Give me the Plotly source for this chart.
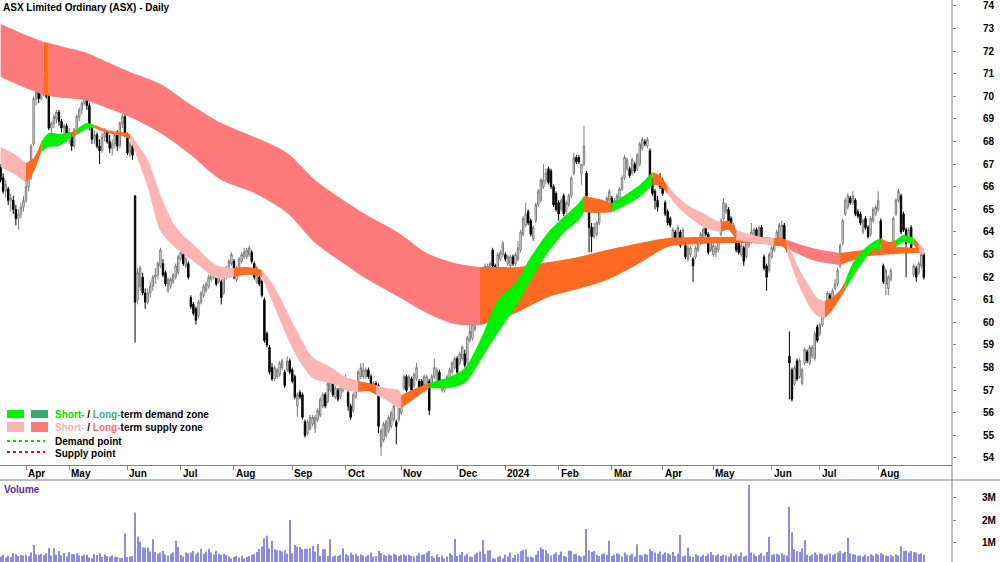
import pandas as pd
import plotly.graph_objects as go

# ---------------- categories (ASX trading days) ----------------
HOLIDAYS = ["2023-04-07", "2023-04-10", "2023-04-25", "2023-06-12", "2023-12-25", "2023-12-26",
            "2024-01-01", "2024-01-26", "2024-03-29", "2024-04-01", "2024-04-25", "2024-06-10"]
START, END = "2023-03-20", "2024-08-27"

# ---------------- price data ----------------
OPEN = [66.9,66.4,65.8,65.9,65.4,65.4,65.0,64.6,64.8,65.1,
65.4,66.0,66.4,67.9,69.9,70.2,69.9,70.3,70.8,70.0,
68.6,68.8,69.0,69.3,68.9,68.6,68.7,68.2,68.3,67.8,
68.5,69.1,69.4,69.7,69.9,69.6,68.6,68.1,68.3,67.8,
67.6,68.2,68.4,68.0,67.7,67.9,68.3,67.8,68.8,69.1,
68.3,67.5,67.8,65.6,61.0,61.6,62.0,61.3,60.9,61.3,
61.6,62.0,62.1,62.5,62.6,62.2,61.4,61.6,61.8,62.0,
62.2,62.8,63.0,62.5,62.6,61.1,60.8,60.6,60.3,60.9,
61.2,61.4,61.6,61.9,62.0,62.2,61.8,61.8,61.3,62.0,
62.3,62.6,62.7,61.9,62.2,62.7,62.9,62.9,63.0,63.1,
62.6,61.8,62.0,61.8,61.0,59.5,58.9,58.0,57.5,57.6,
57.7,58.0,57.8,57.9,58.3,57.9,57.6,56.3,56.9,56.8,
55.6,55.1,55.3,55.5,55.3,55.7,55.9,56.3,56.8,56.5,
57.0,57.3,56.7,57.0,56.7,57.0,57.2,56.9,56.3,56.1,
56.7,57.1,57.6,57.6,57.6,57.9,57.6,57.0,57.3,57.2,
54.5,54.8,55.0,55.2,55.4,55.7,55.6,55.7,56.0,57.1,
57.6,57.2,57.5,57.2,57.5,57.4,57.4,57.0,57.2,57.4,
57.2,57.6,57.2,57.8,57.0,57.0,57.2,57.5,57.8,58.0,
58.4,58.2,58.4,58.6,58.2,59.2,59.3,59.7,60.3,60.9,
61.5,61.7,61.9,62.3,63.2,62.5,62.4,62.8,63.0,63.0,
62.6,62.5,62.9,62.6,62.8,63.2,63.9,64.3,64.9,64.5,
63.7,64.5,65.2,65.4,66.0,66.3,66.8,66.7,66.0,65.7,
65.3,65.0,65.6,64.9,65.2,65.6,66.6,67.3,67.3,66.6,
67.0,66.6,65.0,64.2,63.8,63.9,64.4,65.0,65.2,65.0,
65.4,65.5,65.0,65.3,65.5,65.9,66.4,66.8,66.8,66.6,
67.0,66.8,67.0,67.7,68.0,67.8,67.6,66.3,65.8,65.4,
66.4,66.3,65.3,64.9,64.6,63.7,64.0,63.7,64.0,63.6,
63.4,62.8,63.0,62.8,62.9,63.2,63.5,63.7,64.4,63.9,
63.2,63.0,63.1,63.2,63.9,64.6,64.9,65.0,64.6,64.0,
64.0,63.6,63.0,63.3,62.9,63.4,63.6,63.8,64.1,63.8,
64.2,62.9,62.5,62.3,62.9,63.2,63.5,63.7,63.6,64.3,
63.4,58.5,57.9,57.3,58.3,57.6,57.3,58.2,58.7,58.2,
58.5,58.4,59.8,59.5,59.9,60.3,60.9,61.2,61.1,61.5,
61.7,62.5,63.5,64.8,65.1,65.5,65.3,65.4,64.9,64.8,
64.0,64.6,64.2,63.9,64.5,64.8,65.0,64.5,62.5,61.7,
61.5,61.9,63.1,64.8,65.4,65.6,64.8,64.1,63.8,64.2,
62.1,62.4,62.2,62.5,63.0]

HIGH = [67.0,66.6,66.3,66.0,65.7,65.6,65.2,65.0,65.3,65.6,
66.2,66.6,67.9,70.0,70.6,70.4,70.5,70.9,70.9,70.1,
68.9,69.2,69.4,69.4,69.0,68.8,68.8,68.6,68.4,68.6,
69.2,69.5,69.8,70.6,70.1,69.7,68.7,68.5,68.4,68.1,
68.4,68.6,68.5,68.3,68.1,68.4,68.5,68.9,69.3,69.2,
68.4,68.0,67.9,65.6,62.4,62.5,62.2,61.5,61.5,61.8,
62.1,62.4,62.7,63.3,62.8,62.3,62.0,62.0,62.2,62.6,
63.0,63.2,63.1,62.9,62.7,61.2,60.9,60.7,61.0,61.4,
61.7,61.8,62.1,62.3,62.4,62.3,62.2,61.9,62.2,62.5,
62.8,63.1,62.8,62.5,62.9,63.1,63.3,63.3,63.4,63.2,
62.7,62.5,62.2,61.9,61.1,59.6,59.0,58.2,58.1,58.0,
58.3,58.4,57.9,58.5,58.4,58.0,57.7,56.9,57.0,56.9,
55.7,55.7,55.9,55.9,55.9,56.2,56.7,56.9,56.9,57.4,
57.6,57.4,57.2,57.1,57.2,57.5,57.7,57.0,56.4,56.9,
57.3,57.9,58.2,58.2,58.0,58.0,57.7,57.4,57.4,57.3,
55.3,55.6,55.7,55.9,56.1,56.4,55.7,56.4,56.7,57.7,
57.7,57.7,57.6,57.8,58.2,57.5,57.5,57.7,57.7,57.5,
57.7,58.4,58.0,57.9,57.5,57.4,57.7,58.0,58.3,58.5,
58.5,58.7,59.0,58.8,59.4,60.0,60.0,60.4,61.1,61.8,
62.0,62.6,62.6,62.7,63.3,62.6,63.1,63.2,63.6,63.1,
63.0,63.0,63.0,63.1,63.6,64.1,64.7,65.3,65.0,64.6,
64.3,65.3,65.9,66.4,67.0,66.8,66.9,66.8,66.1,65.8,
65.4,65.5,65.7,65.4,65.7,66.5,67.5,67.4,67.4,67.0,
68.7,66.7,65.1,64.4,64.4,64.5,65.3,65.4,65.3,65.6,
65.9,65.6,65.5,65.7,66.0,66.5,67.4,67.3,66.9,67.3,
67.1,67.5,68.0,68.2,68.1,68.2,67.7,66.4,65.9,65.6,
66.6,66.4,65.4,65.0,64.7,64.2,64.1,64.3,64.1,64.2,
63.5,63.4,63.4,62.9,63.4,63.6,64.0,64.2,64.5,64.0,
63.7,63.5,63.4,63.7,64.6,65.5,65.3,65.1,64.7,64.4,
64.1,63.7,63.5,63.4,63.6,63.7,64.4,64.2,64.2,64.3,
64.3,63.0,62.6,63.1,63.4,63.7,64.1,64.4,64.5,64.4,
63.5,59.6,58.0,58.1,58.4,58.4,58.0,58.9,58.8,59.0,
59.0,59.6,59.9,60.0,60.5,60.9,61.4,61.3,61.5,61.9,
62.4,63.5,64.6,65.5,65.7,65.6,65.8,65.5,65.0,64.9,
64.6,64.7,64.3,64.7,65.1,65.2,65.8,64.6,62.6,62.4,
62.1,62.4,64.7,65.5,65.9,65.7,64.9,64.2,64.2,64.3,
62.6,62.5,62.7,63.1,63.1]

LOW = [66.2,65.7,65.5,65.2,64.9,64.8,64.3,64.1,64.6,64.9,
65.3,65.8,66.3,67.8,69.6,69.7,69.8,70.0,69.9,68.5,
68.2,68.6,68.8,68.7,68.4,68.3,68.0,67.9,67.6,67.7,
68.4,68.9,69.2,69.6,69.4,68.5,67.9,67.9,67.7,67.0,
67.5,68.0,67.9,67.5,67.4,67.7,67.6,67.7,68.6,68.2,
67.4,67.3,67.2,59.1,60.8,61.4,61.2,60.6,60.8,61.1,
61.4,61.7,61.9,62.4,62.0,61.6,61.3,61.5,61.7,61.9,
62.1,62.7,62.5,62.4,61.9,60.6,60.3,59.9,60.2,60.8,
61.1,61.3,61.5,61.8,61.9,61.6,61.7,60.8,61.2,61.9,
62.2,62.5,61.9,61.8,62.1,62.6,62.8,62.8,62.9,62.6,
61.9,61.7,61.6,61.1,59.1,58.9,57.7,57.4,57.4,57.5,
57.6,57.9,57.1,57.8,57.7,57.3,56.6,55.8,56.6,55.7,
54.9,55.0,55.2,55.4,55.1,55.6,55.8,56.2,56.2,56.4,
56.9,56.7,56.6,56.5,56.6,56.9,57.1,56.1,55.7,56.0,
56.6,57.0,57.5,57.5,57.5,57.5,57.1,56.9,57.0,55.1,
54.1,54.7,54.9,55.1,55.3,55.6,54.6,55.6,55.9,57.0,
56.9,57.1,56.9,57.1,57.4,56.9,57.0,56.9,57.1,55.9,
57.1,57.5,57.1,57.2,56.9,56.9,57.1,57.4,57.7,57.9,
57.7,58.1,58.3,58.0,58.1,59.1,59.2,59.6,60.2,60.8,
61.4,61.6,61.8,62.2,62.4,62.0,62.3,62.7,62.9,62.7,
62.5,62.4,62.5,62.5,62.7,63.1,63.8,64.2,64.3,63.8,
63.6,64.4,65.1,65.3,65.9,66.1,66.1,65.9,65.1,64.9,
64.5,64.9,64.7,64.8,65.1,65.5,66.5,67.0,67.0,66.1,
66.9,65.4,63.1,63.1,63.7,63.8,64.3,64.9,64.9,64.9,
65.3,64.9,64.9,65.2,65.4,65.8,66.3,66.7,66.4,66.5,
66.6,66.7,66.9,67.6,67.8,67.7,66.2,65.6,65.0,64.9,
65.9,65.6,64.7,64.3,64.2,63.6,63.5,63.6,63.3,63.5,
62.8,62.7,62.9,61.8,62.8,63.1,63.4,63.6,63.8,63.0,
63.1,62.9,62.9,63.1,63.8,64.5,64.8,64.4,64.1,63.9,
63.1,63.0,62.9,62.5,62.8,63.3,63.5,63.7,63.5,63.7,
63.6,62.3,61.4,62.2,62.8,63.1,63.4,63.6,63.5,63.3,
63.1,56.6,56.5,57.2,57.4,57.5,57.2,58.1,58.2,58.1,
58.4,58.3,59.1,59.4,59.8,60.2,60.8,60.8,61.0,61.4,
61.6,62.4,63.4,64.7,65.0,65.2,65.2,64.7,64.6,64.3,
63.9,64.1,63.7,63.8,64.4,64.7,64.9,63.5,61.7,61.2,
61.2,61.8,63.0,64.7,65.3,63.9,64.0,62.0,63.7,63.2,
62.0,61.8,62.1,62.4,61.9]

CLOSE = [66.3,65.8,66.1,65.4,65.5,65.0,64.6,64.8,65.1,65.4,
66.0,66.4,67.8,69.9,70.2,69.9,70.3,70.7,70.0,68.6,
68.8,69.1,69.3,68.9,68.6,68.7,68.1,68.4,67.8,68.5,
69.1,69.4,69.7,69.9,69.6,68.6,68.1,68.3,67.8,67.6,
68.2,68.4,68.0,67.7,67.9,68.3,67.8,68.8,69.1,68.3,
67.5,67.9,67.4,60.9,62.2,62.4,61.3,60.9,61.3,61.6,
62.0,62.1,62.6,63.2,62.1,61.7,61.9,61.9,62.1,62.5,
62.9,63.1,62.6,62.8,62.0,60.7,60.4,60.1,60.9,61.3,
61.6,61.7,62.0,62.2,62.3,61.7,62.1,61.1,62.1,62.4,
62.7,63.0,62.0,62.4,62.8,63.0,63.1,63.2,63.3,62.7,
62.0,62.4,61.7,61.2,59.2,59.0,57.8,57.5,58.0,57.9,
58.2,58.3,57.2,58.3,57.8,57.4,56.7,56.8,56.7,55.8,
55.0,55.6,55.8,55.8,55.8,56.1,56.6,56.8,56.3,57.3,
57.5,56.8,57.1,56.6,57.1,57.4,57.5,56.3,55.8,56.8,
57.2,57.8,58.0,57.9,57.9,57.6,57.2,57.3,57.1,55.4,
55.2,55.5,55.6,55.8,56.0,56.3,55.4,56.3,56.6,57.6,
57.0,57.6,57.0,57.7,58.0,57.0,57.1,57.6,57.6,56.1,
57.6,58.0,57.9,57.3,57.4,57.3,57.6,57.9,58.2,58.4,
57.8,58.6,58.9,58.1,59.3,59.6,59.9,60.1,61.0,61.7,
61.9,62.5,62.5,62.6,62.5,62.2,63.0,63.1,63.5,62.8,
62.9,62.9,62.6,63.0,63.3,64.0,64.6,64.8,64.4,63.9,
64.2,65.2,65.8,66.3,66.3,66.6,66.2,66.0,65.2,65.0,
64.8,65.4,64.8,65.3,65.6,66.4,67.3,67.1,67.1,67.0,
67.8,65.6,64.2,63.8,64.2,64.4,65.2,65.2,65.1,65.5,
65.8,65.0,65.4,65.6,65.9,66.4,67.3,67.2,66.5,67.2,
66.7,67.4,67.9,68.1,67.9,68.1,66.3,65.7,65.4,65.1,
66.0,65.7,64.8,64.4,64.3,64.1,63.6,64.2,63.4,64.1,
62.9,63.3,63.3,62.5,63.3,63.5,63.9,64.1,63.9,63.1,
63.6,63.4,63.3,63.6,64.5,65.3,65.2,64.5,64.2,64.3,
63.2,63.1,63.4,62.7,63.5,63.6,64.0,64.1,63.6,64.2,
63.7,62.4,62.0,63.0,63.3,63.6,64.0,64.3,64.3,63.4,
63.2,58.2,56.6,58.0,57.5,58.3,57.9,58.8,58.3,58.9,
58.9,59.5,59.2,59.9,60.4,60.8,61.3,60.9,61.4,61.7,
62.3,63.4,64.5,65.4,65.6,65.3,65.6,64.8,64.7,64.4,
64.5,64.2,63.8,64.6,65.0,65.1,65.4,63.6,61.8,62.3,
62.0,62.3,64.6,65.4,65.8,64.0,64.1,63.5,64.1,63.3,
62.5,62.0,62.6,63.0,62.0]

# volume in millions of shares
VOLUME_M = [0.38,0.45,0.33,0.41,0.36,0.52,0.48,0.40,0.44,0.42,
0.46,0.39,0.55,0.89,0.47,0.45,0.50,0.43,0.52,0.74,
0.41,0.74,0.46,0.62,0.44,0.53,0.38,0.57,0.49,0.48,
0.52,0.42,0.40,0.46,0.45,0.33,0.30,0.48,0.44,0.52,
0.36,0.47,0.40,0.38,0.42,0.37,0.35,0.32,0.30,1.40,
0.36,0.38,0.40,2.34,1.26,1.04,0.78,0.77,0.78,0.60,
1.14,0.58,0.50,0.55,0.62,0.47,0.42,0.50,0.56,1.08,
0.80,0.44,0.38,0.55,0.52,0.55,0.62,0.48,0.56,0.72,
0.50,0.60,0.72,0.55,0.48,0.62,0.50,0.46,0.50,0.44,
0.38,0.30,0.35,0.40,0.33,0.42,0.30,0.35,0.40,0.45,
0.48,0.58,0.72,0.82,1.19,1.30,0.74,1.08,0.70,0.66,
0.65,0.60,0.66,0.50,2.00,0.52,0.89,0.82,0.80,0.70,
0.72,0.72,0.75,0.85,0.60,0.93,0.40,0.70,0.70,0.40,
1.14,0.38,0.42,0.40,0.45,0.74,0.48,0.42,0.55,0.45,
0.50,0.40,0.48,0.42,0.38,0.45,0.55,0.38,0.40,0.62,
0.52,0.46,0.40,0.48,0.42,0.50,0.45,0.40,0.44,0.48,
0.42,0.46,0.40,0.38,0.42,0.52,0.46,0.48,0.55,0.62,
0.40,0.32,0.48,0.35,0.42,0.30,0.38,0.52,0.45,1.16,
0.40,0.45,0.58,0.42,0.50,0.38,0.35,0.48,0.55,0.60,
1.11,0.48,0.65,0.66,0.30,0.28,0.35,0.40,0.30,0.45,
0.38,0.56,0.32,0.45,0.50,0.62,0.68,0.70,0.35,0.38,
0.32,0.45,0.62,0.78,0.70,0.66,0.50,0.42,0.48,0.55,
0.45,0.60,0.40,0.38,0.65,0.62,0.48,0.50,0.42,0.38,
0.42,1.60,0.66,0.58,0.62,0.45,0.40,0.48,0.52,0.45,
1.08,0.40,0.45,0.52,0.48,0.38,0.55,0.45,0.42,0.50,
0.38,0.92,0.45,0.42,0.50,0.46,0.70,0.62,0.55,0.50,
0.60,0.48,0.55,0.52,0.45,0.58,0.40,0.50,1.33,0.38,
0.42,0.78,0.40,0.35,0.48,0.42,0.38,0.45,0.40,0.50,
0.58,0.45,0.42,0.48,0.40,0.45,0.42,0.38,0.52,0.40,
0.48,0.40,0.55,0.38,0.42,3.56,0.55,0.48,0.40,0.45,
0.52,0.42,0.58,1.26,0.45,0.48,0.50,0.46,0.52,0.45,
0.42,2.59,1.44,0.70,0.62,0.58,0.75,1.10,0.45,0.40,
0.48,0.55,0.45,0.52,0.50,0.42,0.48,0.52,0.44,0.50,
0.55,0.62,0.52,0.58,1.20,0.52,0.48,0.45,0.40,0.42,
0.38,0.45,0.40,0.48,0.42,0.50,0.45,0.52,0.48,0.42,
0.40,0.45,0.38,0.48,0.42,0.85,0.62,0.65,0.55,0.62,
0.58,0.55,0.48,0.52,0.45]

# ---------------- zone bands (trading-day index, upper / lower price) ----------------
S_IDX = [0,6,10,13,16,19,23,28,30,34,37,41,44,48,51,58,63,69,77,85,92,96,100,103,108,116,123,130,136,141,
         145,148,152,157,158,164,169,177,183,190,196,203,209,216,222,228,230,236,241,248,252,257,260,263,267,
         272,277,280,284,287,290,295,300,305,308,310,312,315,319,322,325,328,331,333,336,340,344,347,350,353,
         356,360,362,364]
S_HI = [67.76,67.41,67.05,67.27,67.98,68.38,68.34,68.42,68.56,68.82,68.73,68.56,68.47,68.42,68.34,67.19,65.64,
        64.22,63.34,62.54,62.41,62.45,62.41,62.32,61.57,59.80,58.47,58.03,57.58,57.41,57.32,57.23,57.10,57.01,
        56.79,57.10,57.32,57.58,57.98,59.44,60.99,61.74,62.89,64.00,64.66,65.28,65.59,65.46,65.28,65.77,66.08,
        66.65,66.48,66.04,65.55,65.11,64.84,64.62,64.44,64.49,64.09,63.91,63.78,63.73,63.73,63.56,63.07,62.32,
        61.57,61.08,60.95,61.12,61.43,61.83,62.63,63.20,63.56,63.73,63.56,63.65,63.87,63.73,63.47,63.29]
S_LO = [66.88,66.52,66.17,66.65,67.54,67.76,67.81,68.20,68.29,68.56,68.60,68.42,68.34,68.25,68.12,65.99,64.04,
        63.29,62.63,61.96,62.01,62.10,62.10,62.01,60.68,58.65,57.54,57.32,57.01,56.92,56.96,56.79,56.57,56.21,
        56.21,56.70,57.10,57.10,57.32,58.47,59.53,60.68,61.88,63.12,63.96,64.53,64.88,64.84,64.88,65.28,65.55,
        66.08,66.04,65.68,65.11,64.62,64.22,64.09,64.00,64.09,63.65,63.56,63.47,63.42,63.42,63.12,62.45,61.57,
        60.68,60.28,60.19,60.55,61.08,61.43,62.01,62.67,63.20,63.25,63.07,63.34,63.56,63.42,63.16,62.98]
S_SEGS = [(0,10,"sup_s"),(10,16,"mix"),(16,28,"dem_s"),(28,30,"mix"),(30,37,"dem_s"),(37,51,"mix"),
          (51,92,"sup_s"),(92,103,"mix"),(103,141,"sup_s"),(141,148,"mix"),(148,158,"sup_s"),(158,169,"mix"),
          (169,230,"dem_s"),(230,241,"mix"),(241,257,"dem_s"),(257,263,"mix"),(263,284,"sup_s"),(284,290,"mix"),
          (290,305,"sup_s"),(305,310,"mix"),(310,325,"sup_s"),(325,333,"mix"),(333,347,"dem_s"),(347,353,"mix"),
          (353,360,"dem_s"),(360,362,"mix"),(362,364,"sup_s")]

L_IDX = [0,8,17,19,25,33,42,51,63,74,87,100,113,124,135,143,157,168,179,189,196,204,216,226,239,252,263,276,
         291,301,309,320,331,340,347,353,362,364]
L_HI = [73.20,72.81,72.41,72.36,72.19,71.96,71.52,71.08,70.55,69.71,68.82,68.20,67.50,66.30,65.42,64.84,63.96,
        63.07,62.63,62.45,62.45,62.45,62.67,62.85,63.20,63.51,63.73,63.78,63.78,63.78,63.69,63.29,63.07,63.20,
        63.29,63.34,63.29,63.25]
L_LO = [70.86,70.46,70.06,70.02,69.93,69.84,69.49,69.09,68.38,67.50,66.30,65.73,64.84,63.51,62.63,62.01,61.12,
        60.42,59.93,59.88,60.11,60.46,61.12,61.43,61.88,62.63,63.34,63.47,63.51,63.47,63.34,62.76,62.54,62.89,
        62.98,63.03,63.07,63.07]
L_SEGS = [(0,17,"sup_l"),(17,19,"mix"),(19,189,"sup_l"),(189,309,"mix"),(309,331,"sup_l"),(331,362,"mix"),
          (362,364,"sup_l")]

ZONE_COLORS = {"sup_s": "#FFB4B4", "sup_l": "#FF7B7B", "dem_s": "#00F200", "dem_l": "#3CA872", "mix": "#FF6A22"}
PRICE_TICKS = list(range(54, 75))
VOL_TICKS = [1, 2, 3]
VOL_TICK_TEXT = ["1M", "2M", "3M"]

FONT = "Liberation Sans, Arial, sans-serif"
W, H = 1000, 562

# ---------------- build ----------------
dates = pd.bdate_range(START, END)
dates = dates[~dates.isin(pd.to_datetime(HOLIDAYS))]
n = min(len(OPEN), len(HIGH), len(LOW), len(CLOSE), len(VOLUME_M))
idx = list(range(n))

month_idx, month_lbl = [], []
for i in range(1, len(dates)):
    if dates[i].month != dates[i - 1].month:
        month_idx.append(i)
        month_lbl.append(str(dates[i].year) if dates[i].month == 1 else dates[i].strftime("%b"))

fig = go.Figure()


def add_band(xs, hi, lo, segs):
    for a, b, key in segs:
        pts = [k for k, x in enumerate(xs) if a <= x <= b]
        if len(pts) < 2:
            continue
        sx = [xs[k] for k in pts]
        fig.add_trace(go.Scatter(x=sx, y=[hi[k] for k in pts], mode="lines",
                                 line=dict(width=0, shape="spline", smoothing=0.8),
                                 hoverinfo="skip", xaxis="x", yaxis="y"))
        fig.add_trace(go.Scatter(x=sx, y=[lo[k] for k in pts], mode="lines",
                                 line=dict(width=0, shape="spline", smoothing=0.8),
                                 fill="tonexty", fillcolor=ZONE_COLORS[key],
                                 hoverinfo="skip", xaxis="x", yaxis="y"))


add_band(L_IDX, L_HI, L_LO, L_SEGS)
add_band(S_IDX, S_HI, S_LO, S_SEGS)

fig.add_trace(go.Candlestick(
    x=idx, open=OPEN[:n], high=HIGH[:n], low=LOW[:n], close=CLOSE[:n],
    increasing=dict(line=dict(color="#7A7A7A", width=1), fillcolor="#FFFFFF"),
    decreasing=dict(line=dict(color="#000000", width=1), fillcolor="#000000"),
    whiskerwidth=0, hoverinfo="skip", xaxis="x", yaxis="y"))

fig.add_trace(go.Bar(x=idx, y=VOLUME_M[:n], marker=dict(color="#8C8CDA", line=dict(width=0)),
                     width=0.42, hoverinfo="skip", xaxis="x2", yaxis="y2"))

XR = [-0.25, 375.1]
PRICE_R = [53.69, 74.265]
VOL_R = [0.133, 3.78]
xd = [0, 0.952]


def py(y):
    return 1 - y / H


fig.update_layout(
    width=W, height=H, margin=dict(l=0, r=0, t=0, b=0),
    paper_bgcolor="white", plot_bgcolor="white", showlegend=False, boxgap=0.2,
    font=dict(family=FONT, size=10, color="black"),
    xaxis=dict(domain=xd, range=XR, showgrid=False, zeroline=False, showticklabels=False,
               ticks="outside", tickvals=month_idx, ticklen=4, tickcolor="#808080",
               showline=True, linecolor="#808080", linewidth=1, anchor="y",
               rangeslider=dict(visible=False), fixedrange=True),
    yaxis=dict(domain=[py(465), 1], range=PRICE_R, side="right", showgrid=False, zeroline=False,
               showticklabels=False, ticks="outside", tickvals=PRICE_TICKS, ticklen=3,
               tickcolor="#808080", showline=False, anchor="x"),
    xaxis2=dict(domain=xd, range=XR, showgrid=False, zeroline=False, showticklabels=False,
                showline=False, anchor="y2"),
    yaxis2=dict(domain=[0, py(480)], range=VOL_R, side="right", showgrid=False, zeroline=False,
                showticklabels=False, ticks="outside", tickvals=VOL_TICKS, ticklen=3,
                tickcolor="#808080", showline=False, anchor="x2"),
)

shapes = [
    dict(type="line", xref="paper", yref="paper", x0=0.952, x1=0.952, y0=0, y1=1,
         line=dict(color="#808080", width=1)),
    dict(type="line", xref="paper", yref="paper", x0=0, x1=1, y0=py(480), y1=py(480),
         line=dict(color="#808080", width=1)),
    # legend swatches
    dict(type="rect", xref="paper", yref="paper", x0=7 / W, x1=24 / W, y0=py(418), y1=py(410),
         fillcolor=ZONE_COLORS["dem_s"], line=dict(width=0)),
    dict(type="rect", xref="paper", yref="paper", x0=31 / W, x1=48 / W, y0=py(418), y1=py(410),
         fillcolor=ZONE_COLORS["dem_l"], line=dict(width=0)),
    dict(type="rect", xref="paper", yref="paper", x0=7 / W, x1=24 / W, y0=py(432), y1=py(422),
         fillcolor=ZONE_COLORS["sup_s"], line=dict(width=0)),
    dict(type="rect", xref="paper", yref="paper", x0=31 / W, x1=48 / W, y0=py(432), y1=py(422),
         fillcolor=ZONE_COLORS["sup_l"], line=dict(width=0)),
    dict(type="line", xref="paper", yref="paper", x0=7 / W, x1=45 / W, y0=py(441), y1=py(441),
         line=dict(color="#00DD00", width=2, dash="dot")),
    dict(type="line", xref="paper", yref="paper", x0=7 / W, x1=45 / W, y0=py(452), y1=py(452),
         line=dict(color="#FF0000", width=2, dash="dot")),
]
fig.update_layout(shapes=shapes)

ann = []
ann.append(dict(xref="paper", yref="paper", x=1 / W, y=py(7), xanchor="left", yanchor="middle",
                text="<b>ASX Limited Ordinary (ASX) - Daily</b>", showarrow=False,
                font=dict(family=FONT, size=10, color="black")))
ann.append(dict(xref="paper", yref="paper", x=2 / W, y=py(489), xanchor="left", yanchor="middle",
                text="<b>Volume</b>", showarrow=False, font=dict(family=FONT, size=10, color="#5B2A8C")))
for v in PRICE_TICKS:
    ann.append(dict(xref="paper", yref="y", x=997 / W, y=v, xanchor="right", yanchor="middle",
                    text="<b>%d</b>" % v, showarrow=False, font=dict(family=FONT, size=10, color="black")))
for v, t in zip(VOL_TICKS, VOL_TICK_TEXT):
    ann.append(dict(xref="paper", yref="y2", x=998 / W, y=v, xanchor="right", yanchor="middle",
                    text="<b>%s</b>" % t, showarrow=False, font=dict(family=FONT, size=10, color="black")))
for mi, ml in zip(month_idx, month_lbl):
    ann.append(dict(xref="x", yref="paper", x=mi, y=py(473), xanchor="left", yanchor="middle",
                    text="<b>%s</b>" % ml, showarrow=False, font=dict(family=FONT, size=10, color="black")))
legend_rows = [
    (414, "<b><span style='color:#00E000'>Short-</span> / <span style='color:#3CB371'>Long-</span>"
          "term demand zone</b>"),
    (427, "<b><span style='color:#FFB0B0'>Short-</span> / <span style='color:#FF6B6B'>Long-</span>"
          "term supply zone</b>"),
    (441, "<b>Demand point</b>"),
    (453, "<b>Supply point</b>"),
]
for y, t in legend_rows:
    ann.append(dict(xref="paper", yref="paper", x=53 / W, y=py(y), xanchor="left", yanchor="middle",
                    text=t, showarrow=False, font=dict(family=FONT, size=10, color="black")))
fig.update_layout(annotations=ann)

fig.write_html("out.html")
